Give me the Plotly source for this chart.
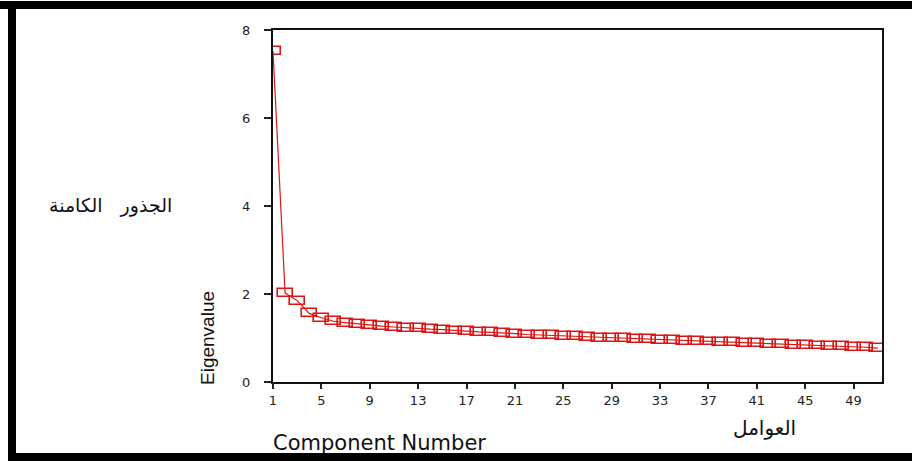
import plotly.graph_objects as go

# ---- data ----
components = list(range(1, 52))
eigenvalues = [
    7.52, 2.02, 1.85, 1.56, 1.46, 1.38, 1.35, 1.32, 1.30, 1.27,
    1.25, 1.23, 1.22, 1.20, 1.19, 1.17, 1.15, 1.14, 1.13, 1.12,
    1.10, 1.08, 1.07, 1.06, 1.05, 1.04, 1.03, 1.01, 1.00, 0.99,
    0.98, 0.97, 0.96, 0.95, 0.94, 0.93, 0.92, 0.91, 0.90, 0.89,
    0.88, 0.87, 0.86, 0.85, 0.84, 0.83, 0.82, 0.81, 0.80, 0.79,
    0.77,
]
x_tickvals = list(range(1, 50, 4))
y_tickvals = [0, 2, 4, 6, 8]

RED = "#de1414"
W, H = 912, 461
L, R, T, B = 273, 30, 30, 79
PW, PH = W - L - R, H - T - B


def px(xp):
    return (xp - L) / PW


def py(yp):
    return (H - B - yp) / PH


box_h = 0.18   # marker box height in data units
box_w = 1.25   # marker box width in data units

fig = go.Figure()
fig.add_trace(go.Scatter(
    x=components, y=eigenvalues, mode="lines",
    line=dict(color=RED, width=1.2), hoverinfo="skip", showlegend=False,
))
fig.add_trace(go.Bar(
    x=components, y=[box_h] * len(components),
    base=[v - box_h / 2 for v in eigenvalues],
    width=box_w,
    marker=dict(color="rgba(0,0,0,0)", line=dict(color=RED, width=1.6)),
    cliponaxis=False, hoverinfo="skip", showlegend=False,
))

font_num = dict(family="DejaVu Sans", size=13, color="#222")

fig.update_xaxes(
    range=[1, 51.35], tickvals=x_tickvals, ticks="outside", ticklen=5,
    tickwidth=1.5, tickcolor="#222", showline=True, linecolor="#111",
    linewidth=2, mirror=True, showgrid=False, zeroline=False,
    tickfont=font_num,
)
fig.update_yaxes(
    range=[0, 8], tickvals=y_tickvals, ticks="outside", ticklen=7,
    tickwidth=1.5, tickcolor="#222", showline=True, linecolor="#111",
    linewidth=2, mirror=True, showgrid=False, zeroline=False,
    tickfont=font_num, ticklabelstandoff=11,
)

annotations = [
    dict(text="Eigenvalue", x=px(207), y=py(338), xref="paper", yref="paper",
         xanchor="center", yanchor="middle", textangle=-90, showarrow=False,
         font=dict(family="Liberation Sans", size=19, color="#111")),
    dict(text="Component Number", x=px(271), y=py(443), xref="paper", yref="paper",
         xanchor="left", yanchor="middle", showarrow=False,
         font=dict(family="DejaVu Sans", size=21, color="#111")),
    dict(text="العوامل", x=px(764), y=py(428), xref="paper", yref="paper",
         xanchor="center", yanchor="middle",
         showarrow=False, font=dict(family="DejaVu Sans", size=20, color="#111")),
    dict(text="الجذور   الكامنة", x=px(174), y=py(205), xref="paper", yref="paper",
         xanchor="right", yanchor="middle", showarrow=False,
         font=dict(family="DejaVu Sans", size=19, color="#111")),
]

shapes = [
    dict(type="rect", xref="paper", yref="paper", x0=px(0), x1=px(W),
         y0=py(9), y1=py(1), fillcolor="black", line_width=0, layer="above"),
    dict(type="rect", xref="paper", yref="paper", x0=px(8), x1=px(16),
         y0=py(H), y1=py(1), fillcolor="black", line_width=0, layer="above"),
    dict(type="rect", xref="paper", yref="paper", x0=px(8), x1=px(W),
         y0=py(H), y1=py(453), fillcolor="black", line_width=0, layer="above"),
]

fig.update_layout(
    width=W, height=H, autosize=False,
    margin=dict(l=L, r=R, t=T, b=B, pad=0),
    paper_bgcolor="white", plot_bgcolor="white",
    annotations=annotations, shapes=shapes, showlegend=False,
    bargap=0,
)

fig.write_html(
    "out.html",
    config={"displayModeBar": False},
    post_script="document.body.style.margin='0';document.body.style.padding='0';"
                "document.body.style.overflow='hidden';",
)
